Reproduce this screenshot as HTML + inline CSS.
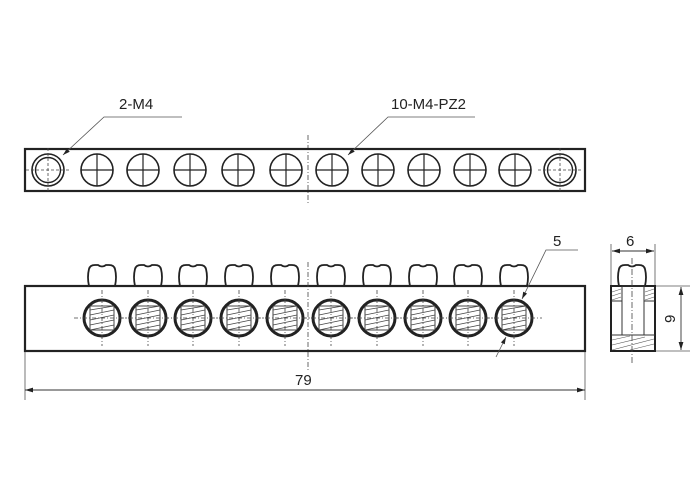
<!DOCTYPE html>
<html><head><style>body{margin:0;background:#fff}svg{display:block}text{font-family:"Liberation Sans",sans-serif;font-size:15px;fill:#222}</style></head><body>
<svg width="700" height="500" viewBox="0 0 700 500" xmlns="http://www.w3.org/2000/svg">
<defs>
<g id="ph"><circle r="16" fill="none" stroke="#222" stroke-width="1.6"/><path d="M-16 0H16M0-16V16" stroke="#222" stroke-width="1.2"/></g>
<g id="m4"><circle r="16" fill="none" stroke="#222" stroke-width="1.6"/><circle r="12.5" fill="none" stroke="#222" stroke-width="1.4"/><path d="M-22 0H22M0-22V22" stroke="#444" stroke-width="0.8" stroke-dasharray="3 2"/></g>
<g id="th"><circle r="18" fill="#fff" stroke="#222" stroke-width="3"/><rect x="-12" y="-12" width="24" height="24" fill="none" stroke="#333" stroke-width="0.9"/><path d="M-12-8L12-12M-12-3L12-8M-12 2L12-3M-12 7L12 2M-12 12L12 7" stroke="#444" stroke-width="0.7"/><path d="M-28 0H28M0-28V28" stroke="#444" stroke-width="0.8" stroke-dasharray="4 2 1 2"/></g>
<g id="sc"><path d="M-13 21Q-15 12-13 4Q-12 0-7 0L-4 0Q0 3 4 0L7 0Q12 0 13 4Q15 12 13 21" fill="#fff" stroke="#222" stroke-width="1.8"/></g>
<marker id="a" viewBox="0 0 10 10" refX="10" refY="5" markerWidth="9" markerHeight="9" orient="auto-start-reverse"><path d="M0 2L10 5L0 8Z" fill="#222"/></marker>
</defs>
<line x1="308" y1="135" x2="308" y2="205" stroke="#444" stroke-width="0.8" stroke-dasharray="5 2 1 2"/>
<rect x="25" y="149" width="560" height="42" fill="none" stroke="#222" stroke-width="2.2"/>
<use href="#m4" x="48" y="170"/>
<use href="#ph" x="97" y="170"/><use href="#ph" x="143" y="170"/><use href="#ph" x="190" y="170"/><use href="#ph" x="238" y="170"/><use href="#ph" x="286" y="170"/><use href="#ph" x="332" y="170"/><use href="#ph" x="378" y="170"/><use href="#ph" x="424" y="170"/><use href="#ph" x="470" y="170"/><use href="#ph" x="515" y="170"/>
<use href="#m4" x="560" y="170"/>
<text x="119" y="109">2-M4</text>
<path d="M182 117H104L63 155" fill="none" stroke="#555" stroke-width="0.8" marker-end="url(#a)"/>
<text x="391" y="109">10-M4-PZ2</text>
<path d="M475 117H388L348 155" fill="none" stroke="#555" stroke-width="0.8" marker-end="url(#a)"/>
<use href="#sc" x="102" y="265"/><use href="#sc" x="148" y="265"/><use href="#sc" x="193" y="265"/><use href="#sc" x="239" y="265"/><use href="#sc" x="285" y="265"/><use href="#sc" x="331" y="265"/><use href="#sc" x="377" y="265"/><use href="#sc" x="423" y="265"/><use href="#sc" x="468" y="265"/><use href="#sc" x="514" y="265"/>
<rect x="25" y="286" width="560" height="65" fill="#fff" stroke="#222" stroke-width="2.2"/>
<line x1="308" y1="262" x2="308" y2="370" stroke="#444" stroke-width="0.8" stroke-dasharray="5 2 1 2"/>
<use href="#th" x="102" y="318"/><use href="#th" x="148" y="318"/><use href="#th" x="193" y="318"/><use href="#th" x="239" y="318"/><use href="#th" x="285" y="318"/><use href="#th" x="331" y="318"/><use href="#th" x="377" y="318"/><use href="#th" x="423" y="318"/><use href="#th" x="468" y="318"/><use href="#th" x="514" y="318"/>
<text x="553" y="246">5</text>
<path d="M578 250H546L522 299" fill="none" stroke="#555" stroke-width="0.8" marker-end="url(#a)"/>
<path d="M496 357L506 337" fill="none" stroke="#555" stroke-width="0.8" marker-end="url(#a)"/>
<path d="M25 352V400M585 352V400" stroke="#555" stroke-width="0.8"/>
<line x1="25" y1="390" x2="585" y2="390" stroke="#333" stroke-width="0.9" marker-start="url(#a)" marker-end="url(#a)"/>
<text x="295" y="385">79</text>
<use href="#sc" x="632" y="265"/>
<rect x="611" y="286" width="44" height="65" fill="#fff" stroke="#222" stroke-width="2"/>
<rect x="622" y="286" width="22" height="49" fill="none" stroke="#333" stroke-width="1"/>
<path d="M611 301H622M644 301H655M611 335H655" stroke="#333" stroke-width="1"/>
<g stroke="#555" stroke-width="0.6"><path d="M612 292L621 289M612 296L621 293M612 300L621 297M645 292L654 289M645 296L654 293M645 300L654 297M612 340L630 336M612 345L645 337M612 350L654 339M630 350L654 344"/></g>
<line x1="632" y1="258" x2="632" y2="365" stroke="#444" stroke-width="0.8" stroke-dasharray="6 2 1 2"/>
<path d="M611 285V244M655 285V244" stroke="#555" stroke-width="0.8"/>
<line x1="612" y1="251" x2="654" y2="251" stroke="#333" stroke-width="0.9" marker-start="url(#a)" marker-end="url(#a)"/>
<text x="626" y="246">6</text>
<path d="M656 286H690M656 351H690" stroke="#555" stroke-width="0.8"/>
<line x1="681" y1="287" x2="681" y2="350" stroke="#333" stroke-width="0.9" marker-start="url(#a)" marker-end="url(#a)"/>
<text x="0" y="0" transform="translate(675,323) rotate(-90)">9</text>
</svg>
</body></html>
